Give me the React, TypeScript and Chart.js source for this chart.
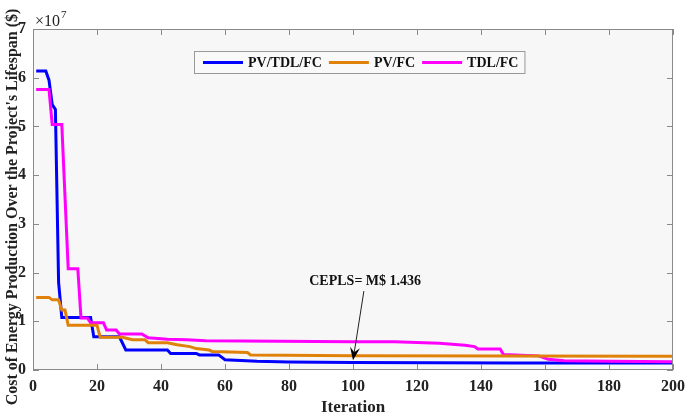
import { useEffect, useRef } from "react";
import { Chart, registerables } from "chart.js";

Chart.register(...registerables);

// iteration / cost (x10^7 $) breakpoints
const blueIter = [1, 4, 5, 6, 7, 8, 9, 18, 19, 27, 29, 42, 43, 51, 52, 58, 60, 70, 80, 100, 150, 200];
const blueCost = [6.14, 6.14, 5.95, 5.45, 5.35, 1.8, 1.08, 1.08, 0.68, 0.68, 0.41, 0.41, 0.34, 0.34, 0.31, 0.31, 0.21, 0.18, 0.165, 0.152, 0.146, 0.144];

const orangeIter = [1, 5, 6, 8, 9, 10, 11, 20, 21, 28, 31, 35, 36, 42, 45, 49, 51, 55, 56, 67, 68, 100, 150, 200];
const orangeCost = [1.49, 1.49, 1.44, 1.44, 1.23, 1.23, 0.92, 0.92, 0.67, 0.67, 0.62, 0.62, 0.56, 0.56, 0.52, 0.48, 0.44, 0.41, 0.38, 0.36, 0.31, 0.29, 0.285, 0.28];

const magentaIter = [1, 5, 6, 9, 11, 14, 15, 17, 18, 22, 23, 26, 27, 34, 36, 42, 48, 54, 100, 113, 127, 135, 138, 139, 146, 147, 158, 161, 166, 180, 200];
const magentaCost = [5.76, 5.76, 5.04, 5.04, 2.08, 2.08, 1.07, 1.07, 0.97, 0.97, 0.82, 0.82, 0.74, 0.74, 0.66, 0.63, 0.62, 0.6, 0.58, 0.58, 0.55, 0.51, 0.48, 0.43, 0.43, 0.32, 0.29, 0.22, 0.19, 0.18, 0.17];

const seriesNames = ["PV/TDL/FC", "PV/FC", "TDL/FC"];
const seriesColors = ["#0000ff", "#e0820a", "#ff00ff"];

const xTicks = [0, 20, 40, 60, 80, 100, 120, 140, 160, 180, 200];
const yTicks = [0, 1, 2, 3, 4, 5, 6, 7];

const yTitle = "Cost of Energy Production Over the Project's Lifespan ($)";
const note = "CEPLS= M$ 1.436";
const noteAt = { x: 103.8, y: 1.81 };
const arrowFrom = { x: 103.4, y: 1.62 };
const arrowTo = { x: 100, y: 0.2 };

const FONT = "'Liberation Serif', 'Times New Roman', serif";

const toPoints = (xs: number[], ys: number[]) => xs.map((x, i) => ({ x, y: ys[i] }));

const framePlugin = {
  id: "frame",
  beforeDraw(chart: any) {
    const { ctx, chartArea: a } = chart;
    ctx.save();
    ctx.fillStyle = "#ffffff";
    ctx.fillRect(0, 0, chart.width, chart.height);
    ctx.fillStyle = "#f7f7f7";
    ctx.fillRect(a.left, a.top, a.right - a.left, a.bottom - a.top);
    ctx.restore();
  },
  afterDraw(chart: any) {
    const { ctx, chartArea: a, scales } = chart;
    const xs = scales.x;
    const ys = scales.y;
    ctx.save();

    // box and inward ticks
    ctx.strokeStyle = "#8a8a8a";
    ctx.lineWidth = 1;
    ctx.strokeRect(a.left + 0.5, a.top + 0.5, a.right - a.left - 1, a.bottom - a.top - 1);
    ctx.beginPath();
    xTicks.forEach((t) => {
      const px = Math.round(xs.getPixelForValue(t)) + 0.5;
      ctx.moveTo(px, a.bottom);
      ctx.lineTo(px, a.bottom - 6);
      ctx.moveTo(px, a.top);
      ctx.lineTo(px, a.top + 6);
    });
    yTicks.forEach((t) => {
      const py = Math.round(ys.getPixelForValue(t)) + 0.5;
      ctx.moveTo(a.left, py);
      ctx.lineTo(a.left + 6, py);
      ctx.moveTo(a.right, py);
      ctx.lineTo(a.right - 6, py);
    });
    ctx.stroke();

    // y title, drawn by hand so it can sit lower than the axis centre
    ctx.save();
    ctx.translate(12.5, 207);
    ctx.rotate(-Math.PI / 2);
    ctx.font = `bold 16px ${FONT}`;
    ctx.fillStyle = "#222";
    ctx.textAlign = "center";
    ctx.textBaseline = "middle";
    ctx.fillText(yTitle, 0, 0);
    ctx.restore();

    // x10^7 exponent label
    ctx.fillStyle = "#222";
    ctx.textBaseline = "alphabetic";
    ctx.textAlign = "left";
    ctx.font = `16px ${FONT}`;
    ctx.fillText("\u00d710", a.left + 2, a.top - 3);
    const w10 = ctx.measureText("\u00d710").width;
    ctx.font = `11px ${FONT}`;
    ctx.fillText("7", a.left + 3 + w10, a.top - 11);

    // legend box
    ctx.font = `bold 14px ${FONT}`;
    const lx = 194;
    const ly = 51;
    const lh = 22;
    let cx = lx + 9;
    const items = seriesNames.map((name) => ({ name, w: ctx.measureText(name).width }));
    const totalW = items.reduce((s, it) => s + 40 + 5 + it.w, 0) + 2 * 7 + 9 + 6;
    ctx.fillStyle = "#f9f9f9";
    ctx.fillRect(lx, ly, totalW, lh);
    ctx.strokeStyle = "#999";
    ctx.strokeRect(lx + 0.5, ly + 0.5, totalW, lh);
    items.forEach((it, i) => {
      const cy = ly + lh / 2 + 0.5;
      ctx.strokeStyle = seriesColors[i];
      ctx.lineWidth = 3;
      ctx.beginPath();
      ctx.moveTo(cx, cy);
      ctx.lineTo(cx + 40, cy);
      ctx.stroke();
      ctx.fillStyle = "#111";
      ctx.textBaseline = "middle";
      ctx.fillText(it.name, cx + 45, cy + 1);
      cx += 40 + 5 + it.w + 7;
    });

    // annotation with arrow
    ctx.font = `bold 14px ${FONT}`;
    ctx.textAlign = "center";
    ctx.textBaseline = "middle";
    ctx.fillStyle = "#111";
    ctx.fillText(note, xs.getPixelForValue(noteAt.x), ys.getPixelForValue(noteAt.y));
    const x0 = xs.getPixelForValue(arrowFrom.x);
    const y0 = ys.getPixelForValue(arrowFrom.y);
    const x1 = xs.getPixelForValue(arrowTo.x);
    const y1 = ys.getPixelForValue(arrowTo.y);
    const ang = Math.atan2(y1 - y0, x1 - x0);
    ctx.strokeStyle = "#222";
    ctx.lineWidth = 1;
    ctx.beginPath();
    ctx.moveTo(x0, y0);
    ctx.lineTo(x1 - 8 * Math.cos(ang), y1 - 8 * Math.sin(ang));
    ctx.stroke();
    ctx.fillStyle = "#000";
    ctx.beginPath();
    ctx.moveTo(x1, y1);
    ctx.lineTo(x1 - 13 * Math.cos(ang) + 5 * Math.sin(ang), y1 - 13 * Math.sin(ang) - 5 * Math.cos(ang));
    ctx.lineTo(x1 - 8 * Math.cos(ang), y1 - 8 * Math.sin(ang));
    ctx.lineTo(x1 - 13 * Math.cos(ang) - 5 * Math.sin(ang), y1 - 13 * Math.sin(ang) + 5 * Math.cos(ang));
    ctx.closePath();
    ctx.fill();
    ctx.restore();
  },
};

export default function App() {
  const canvasRef = useRef<HTMLCanvasElement>(null);
  const chartRef = useRef<Chart<"line"> | null>(null);

  useEffect(() => {
    if (!canvasRef.current) return;
    if (chartRef.current) chartRef.current.destroy();

    const line = (label: string, color: string, xs: number[], ys: number[]) => ({
      label,
      data: toPoints(xs, ys),
      borderColor: color,
      backgroundColor: color,
      borderWidth: 3,
      pointRadius: 0,
      tension: 0,
      fill: false,
    });

    chartRef.current = new Chart(canvasRef.current, {
      type: "line",
      data: {
        datasets: [
          line(seriesNames[1], seriesColors[1], orangeIter, orangeCost),
          line(seriesNames[2], seriesColors[2], magentaIter, magentaCost),
          line(seriesNames[0], seriesColors[0], blueIter, blueCost),
        ],
      },
      options: {
        responsive: true,
        maintainAspectRatio: false,
        animation: false,
        layout: { padding: { top: 29, right: 12, left: 0, bottom: 0 } },
        plugins: {
          legend: { display: false },
          tooltip: { enabled: false },
        },
        scales: {
          x: {
            type: "linear",
            min: 0,
            max: 200,
            afterFit: (s: any) => {
              s.height = 45;
              s.paddingLeft = 0;
              s.paddingRight = 0;
            },
            afterBuildTicks: (s: any) => {
              s.ticks = xTicks.map((v) => ({ value: v }));
            },
            grid: { display: false, drawTicks: false },
            border: { display: false },
            ticks: {
              padding: 7,
              color: "#222",
              font: { family: FONT, size: 16, weight: "bold" },
              maxRotation: 0,
            },
            title: {
              display: true,
              text: "Iteration",
              color: "#222",
              padding: { top: 0, bottom: -3 },
              font: { family: FONT, size: 17, weight: "bold" },
            },
          },
          y: {
            type: "linear",
            min: 0,
            max: 7,
            afterFit: (s: any) => {
              s.width = 33;
              s.paddingTop = 0;
              s.paddingBottom = 0;
            },
            afterBuildTicks: (s: any) => {
              s.ticks = yTicks.map((v) => ({ value: v }));
            },
            grid: { display: false, drawTicks: false },
            border: { display: false },
            ticks: {
              padding: 7,
              color: "#222",
              font: { family: FONT, size: 16, weight: "bold" },
            },
          },
        },
      },
      plugins: [framePlugin],
    });

    return () => {
      if (chartRef.current) {
        chartRef.current.destroy();
        chartRef.current = null;
      }
    };
  }, []);

  return (
    <div style={{ position: "absolute", left: 0, top: 0, width: 685, height: 415, background: "#fff" }}>
      <canvas ref={canvasRef} />
    </div>
  );
}
